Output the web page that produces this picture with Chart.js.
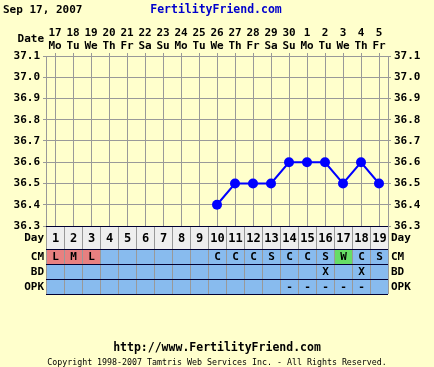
<!DOCTYPE html>
<html>
<head>
<meta charset="utf-8">
<script src="https://cdn.jsdelivr.net/npm/chart.js@4"></script>
<style>
  body { margin: 0; background: #FFFFCC; }
  #wrap { width: 434px; height: 367px; }
</style>
</head>
<body>
<div id="wrap"><canvas id="bbt" width="434" height="367"></canvas></div>
<script>
// chart data
const dates = ['17','18','19','20','21','22','23','24','25','26','27','28','29','30','1','2','3','4','5'];
const weekdays = ['Mo','Tu','We','Th','Fr','Sa','Su','Mo','Tu','We','Th','Fr','Sa','Su','Mo','Tu','We','Th','Fr'];
const cycleDays = [1,2,3,4,5,6,7,8,9,10,11,12,13,14,15,16,17,18,19];
const temps = [null,null,null,null,null,null,null,null,null,36.4,36.5,36.5,36.5,36.6,36.6,36.6,36.5,36.6,36.5];
const cm = ['L','M','L','','','','','','','C','C','C','S','C','C','S','W','C','S'];
const bd = ['','','','','','','','','','','','','','','','X','','X',''];
const opk = ['','','','','','','','','','','','','','-','-','-','-','-',''];

const FONT = '"DejaVu Sans Mono", monospace';
const bold = (size) => `bold ${size}px ${FONT}`;

// text around the chart and the fertility table below it
const extras = {
  id: 'extras',
  afterDraw(chart) {
    const ctx = chart.ctx;
    const x = chart.scales.x;
    const area = chart.chartArea;
    const half = (x.getPixelForValue(1) - x.getPixelForValue(0)) / 2;
    ctx.save();

    // header
    ctx.textBaseline = 'middle';
    ctx.fillStyle = '#000';
    ctx.font = bold(11);
    ctx.textAlign = 'left';
    ctx.fillText('Sep 17, 2007', 3, 10);
    ctx.fillStyle = '#0000CC';
    ctx.textAlign = 'center';
    ctx.font = bold(11.5);
    ctx.fillText('FertilityFriend.com', 216, 10);
    ctx.fillStyle = '#000';
    ctx.font = bold(11);
    ctx.textAlign = 'right';
    ctx.fillText('Date', 44, 39);

    // table rows
    const rows = [
      { name: 'Day', top: 226, h: 23, bg: '#EEEEEE', vals: cycleDays },
      { name: 'CM', top: 249, h: 15, bg: '#88BBEE', vals: cm },
      { name: 'BD', top: 264, h: 15, bg: '#88BBEE', vals: bd },
      { name: 'OPK', top: 279, h: 15, bg: '#88BBEE', vals: opk }
    ];
    rows.forEach(r => {
      ctx.fillStyle = r.bg;
      ctx.fillRect(area.left, r.top, area.right - area.left, r.h);
      r.vals.forEach((v, i) => {
        const cx = x.getPixelForValue(i);
        if (r.name === 'CM' && (v === 'L' || v === 'M')) {
          ctx.fillStyle = '#E88080';
          ctx.fillRect(cx - half + 1, r.top + 1, half * 2 - 1, r.h - 1);
        }
        if (r.name === 'CM' && v === 'W') {
          ctx.fillStyle = '#66DD66';
          ctx.fillRect(cx - half + 1, r.top + 1, half * 2 - 1, r.h - 1);
        }
      });
    });

    // grid lines of the table
    ctx.strokeStyle = '#999999';
    ctx.lineWidth = 1;
    for (let i = 0; i <= cycleDays.length; i++) {
      const gx = Math.round(x.getPixelForValue(i) - half) + 0.5;
      ctx.beginPath();
      ctx.moveTo(gx, 226);
      ctx.lineTo(gx, 294);
      ctx.stroke();
    }
    ctx.strokeStyle = '#000033';
    [226, 249, 264, 279, 294].forEach(y => {
      ctx.beginPath();
      ctx.moveTo(area.left, y + 0.5);
      ctx.lineTo(area.right, y + 0.5);
      ctx.stroke();
    });

    // table text
    rows.forEach(r => {
      const my = r.top + r.h / 2 + 1;
      ctx.fillStyle = '#000';
      ctx.font = bold(r.name === 'Day' ? 12 : 11);
      ctx.textAlign = 'center';
      r.vals.forEach((v, i) => {
        if (v !== '') ctx.fillText(String(v), x.getPixelForValue(i) + 0.5, my);
      });
      ctx.font = bold(11);
      ctx.textAlign = 'right';
      ctx.fillText(r.name, 44, my);
      ctx.textAlign = 'left';
      ctx.fillText(r.name, 391, my);
    });

    // footer
    ctx.textAlign = 'center';
    ctx.font = bold(11.5);
    ctx.fillText('http://www.FertilityFriend.com', 217, 348);
    ctx.font = `8.3px ${FONT}`;
    ctx.fillText('Copyright 1998-2007 Tamtris Web Services Inc. - All Rights Reserved.', 217, 363);
    ctx.restore();
  }
};

const yTicks = {
  color: '#000',
  font: { family: FONT, size: 11, weight: 'bold' },
  stepSize: 0.1,
  padding: 3,
  callback: v => v.toFixed(1)
};

new Chart(document.getElementById('bbt'), {
  type: 'line',
  data: {
    labels: dates,
    datasets: [{
      data: temps,
      borderColor: '#0000FF',
      backgroundColor: '#0000FF',
      borderWidth: 2,
      pointRadius: 5,
      pointBorderWidth: 0,
      tension: 0
    }]
  },
  options: {
    responsive: false,
    animation: false,
    layout: { padding: { top: 0, bottom: 141, left: 0, right: 0 } },
    plugins: { legend: { display: false }, tooltip: { enabled: false } },
    scales: {
      x: {
        position: 'top',
        offset: true,
        grid: { color: '#999999', tickLength: 3 },
        border: { color: '#999999' },
        ticks: {
          color: '#000',
          font: { family: FONT, size: 11, weight: 'bold', lineHeight: 1.2 },
          padding: 0,
          autoSkip: false,
          maxRotation: 0,
          callback: (v, i) => [dates[i], weekdays[i]]
        },
        afterFit: s => { s.height = 56; }
      },
      y: {
        position: 'left',
        min: 36.3,
        max: 37.1,
        grid: { color: '#999999', tickLength: 3 },
        border: { color: '#999999' },
        ticks: yTicks,
        afterFit: s => { s.width = 46; }
      },
      y2: {
        position: 'right',
        min: 36.3,
        max: 37.1,
        grid: { drawOnChartArea: false, color: '#999999', tickLength: 3 },
        border: { color: '#999999' },
        ticks: yTicks,
        afterFit: s => { s.width = 46; }
      }
    }
  },
  plugins: [extras]
});
</script>
</body>
</html>
